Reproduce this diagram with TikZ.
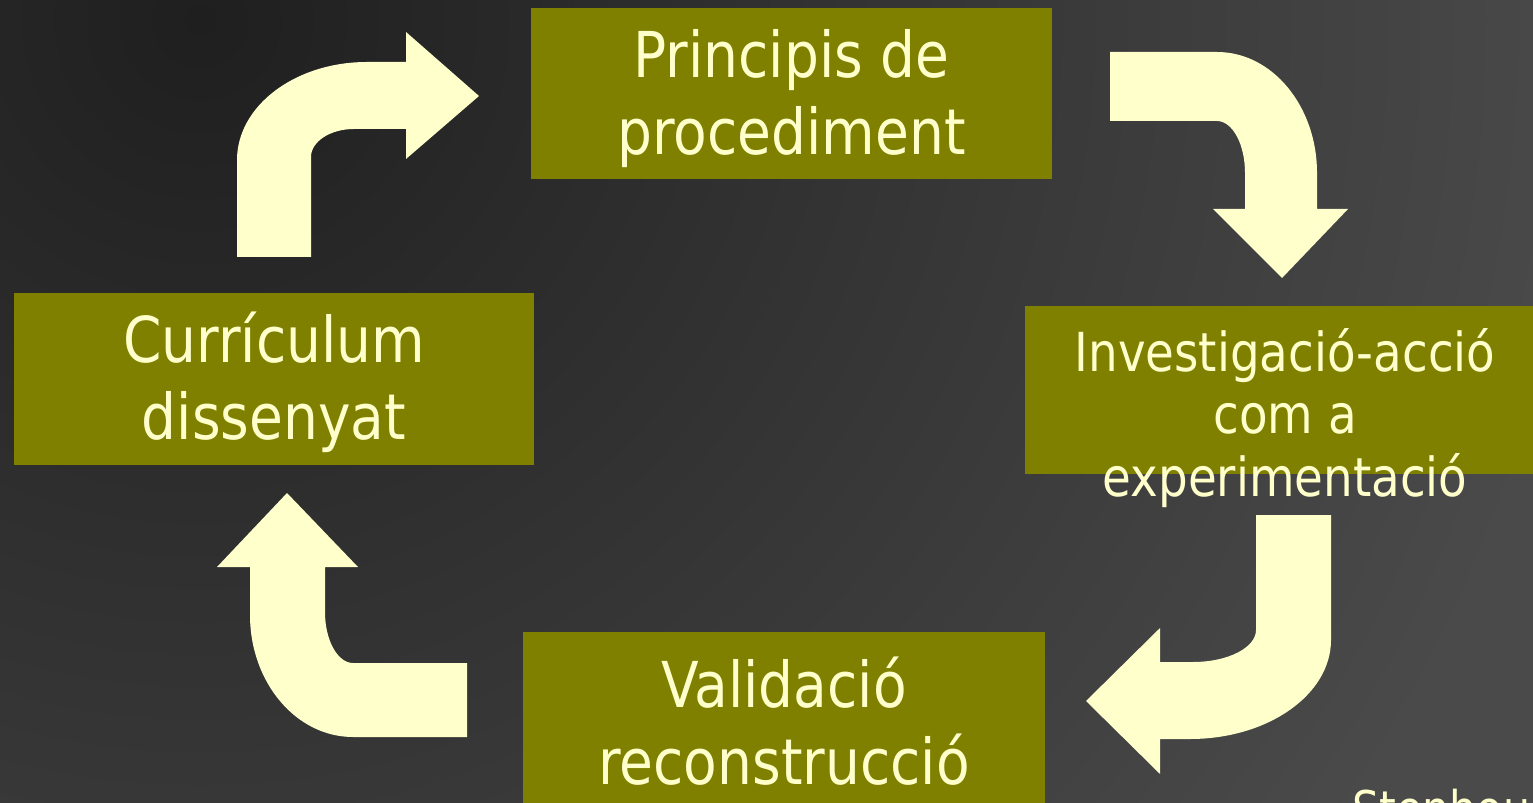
\documentclass[tikz,border=0pt]{standalone}
\usepackage{fontspec}
\setmainfont[FakeStretch=0.87]{DejaVu Sans}
\definecolor{olivebox}{HTML}{808000}
\definecolor{cream}{HTML}{FFFFCC}
\definecolor{bgdark}{HTML}{1F1F1F}
\definecolor{bggrey}{HTML}{4A4A4A}
\begin{document}
\begin{tikzpicture}[x=0.02cm,y=-0.02cm,
  box/.style={fill=olivebox,text=cream,align=center,inner sep=0pt,
    minimum width=10.44cm,minimum height=3.42cm,text height=76.5pt,
    font=\fontsize{36}{43.7}\selectfont},
  txt/.style={text=cream,align=center,inner sep=0pt}]
\useasboundingbox (0,0) rectangle (1533,803);
\clip (0,0) rectangle (1533,803);
\fill[bggrey] (0,0) rectangle (1533,803);
\shade[inner color=bgdark,outer color=bggrey] (200,20) circle (28cm);
% the four steps
\node[box] (proc) at (791.5,93.5) {Principis de\\procediment};
\node[box,minimum width=10.4cm,minimum height=3.36cm] (inv) at (1285,390) {};
\node[txt,font=\fontsize{30.6}{35.7}\selectfont] (invtxt) at (1285,418)
  {Investigació-acció\\com a\\experimentació};
\node[box] (val) at (784,717.5) {Validació\\reconstrucció};
\node[box,minimum width=10.4cm,minimum height=3.44cm] (curr) at (274,379) {Currículum\\dissenyat};
\node[txt,anchor=north west,font=\fontsize{28}{33}\selectfont] (src) at (1352,789) {Stenhouse};
% bent arrows
\fill[cream] (237,257) -- (237,160) arc[start angle=180,end angle=270,x radius=130,y radius=98]
  -- (406,62) -- (406,32) -- (479,96) -- (406,159) -- (406,129) -- (354,129)
  arc[start angle=270,end angle=180,x radius=43,y radius=28] -- (311,257) -- cycle;
\fill[cream] (1110,52) -- (1217,52) arc[start angle=270,end angle=360,x radius=100,y radius=121]
  -- (1317,209) -- (1348,209) -- (1282,278) -- (1213,209) -- (1245,209) -- (1245,173)
  arc[start angle=0,end angle=-90,x radius=28,y radius=52] -- (1110,121) -- cycle;
\fill[cream] (1256,515) -- (1331,515) -- (1331,640) arc[start angle=0,end angle=90,x radius=141,y radius=99]
  -- (1160,739) -- (1160,774) -- (1086,701) -- (1160,628) -- (1160,662) -- (1193,662)
  arc[start angle=90,end angle=0,x radius=63,y radius=32] -- cycle;
\fill[cream] (467,663) -- (353,663) arc[start angle=90,end angle=180,x radius=28,y radius=51]
  -- (325,567) -- (358,567) -- (287,493) -- (217,567) -- (250,567) -- (250,615)
  arc[start angle=180,end angle=90,x radius=103,y radius=122] -- (467,737) -- cycle;
\end{tikzpicture}
\end{document}
